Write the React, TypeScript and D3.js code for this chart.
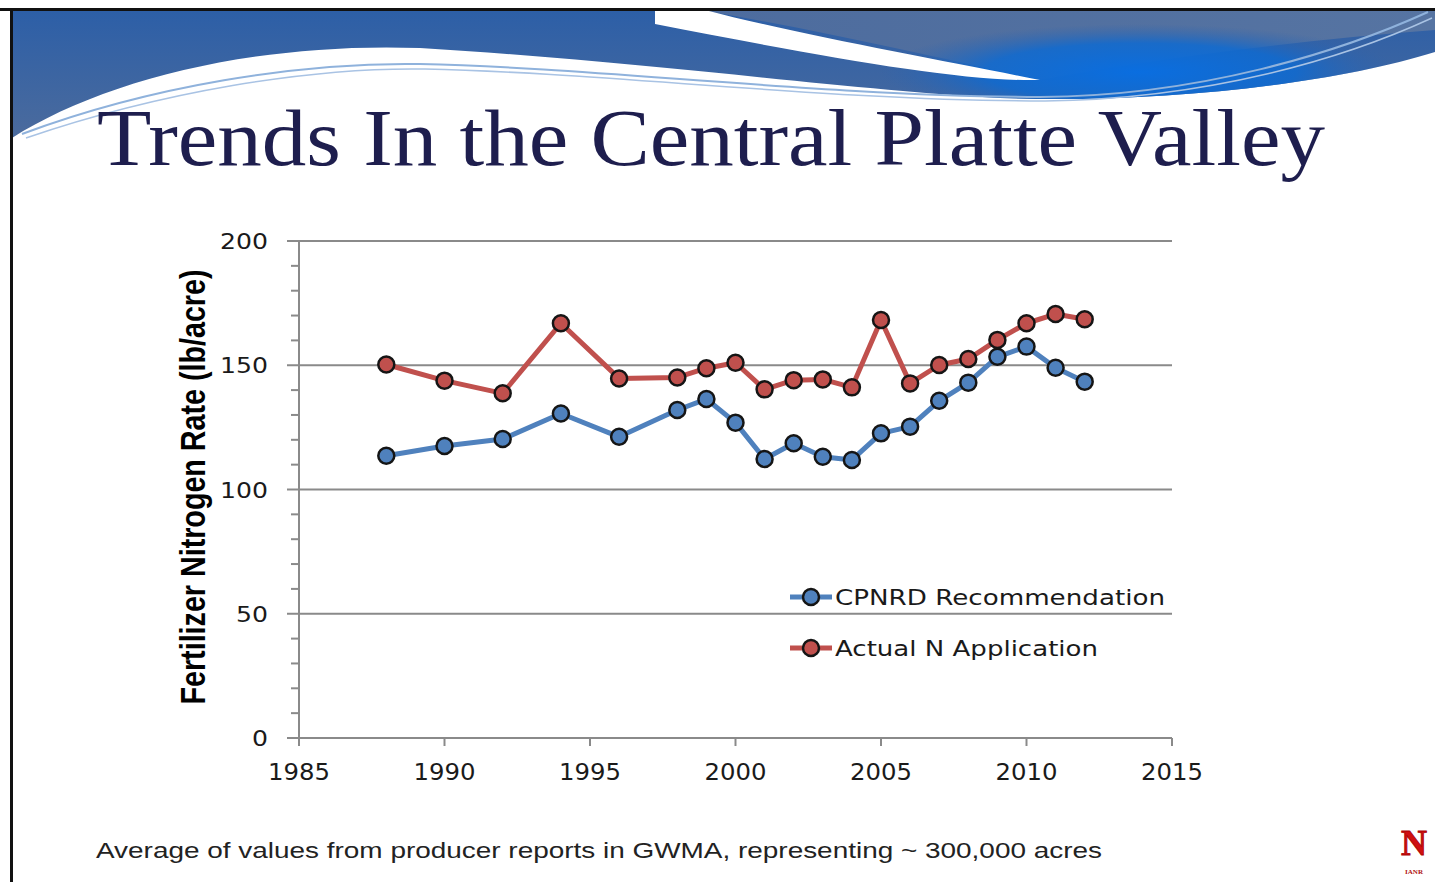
import React from "react";
import * as d3 from "d3";

const years = [1988, 1990, 1992, 1994, 1996, 1998, 1999, 2000, 2001, 2002, 2003, 2004, 2005, 2006, 2007, 2008, 2009, 2010, 2011, 2012];
const cpnrd = [113.6, 117.5, 120.3, 130.6, 121.2, 132, 136.4, 126.9, 112.3, 118.6, 113.2, 111.9, 122.6, 125.3, 135.7, 143, 153.4, 157.5, 149, 143.4];
const actual = [150.3, 143.8, 138.7, 166.9, 144.7, 145.1, 148.8, 151, 140.3, 144, 144.3, 141.1, 168.2, 142.7, 150.1, 152.5, 160.2, 166.9, 170.6, 168.5];
const yTicks = [0, 50, 100, 150, 200];
const xTicks = [1985, 1990, 1995, 2000, 2005, 2010, 2015];
const seriesNames = ["CPNRD Recommendation", "Actual N Application"];
const title = "Trends In the Central Platte Valley";
const yTitle = "Fertilizer Nitrogen Rate (lb/acre)";
const footer = "Average of values from producer reports in GWMA, representing ~ 300,000 acres";

const W = 1435, H = 882;
const left = 299, right = 1172, top = 241, bottom = 738;
const BLUE = "#4f81bd", RED = "#c0504d";

export default function App() {
  const x = d3.scaleLinear().domain([1985, 2015]).range([left, right]);
  const y = d3.scaleLinear().domain([0, 200]).range([bottom, top]);
  const minor = d3.range(0, 201, 10);
  const line = d3.line<number>().x((_, i) => x(years[i])).y((d) => y(d));
  const series = [
    { name: seriesNames[0], values: cpnrd, color: BLUE, len: 330 },
    { name: seriesNames[1], values: actual, color: RED, len: 263 },
  ];
  const font = "'DejaVu Sans', Verdana, sans-serif";
  return (
    <svg width={W} height={H} viewBox={`0 0 ${W} ${H}`} style={{ position: "absolute", left: 0, top: 0, display: "block", background: "#fff" }}>
      <defs>
        <linearGradient id="bannerG" x1="0" y1="0" x2="0" y2="1">
          <stop offset="0" stopColor="#2a5ea8" />
          <stop offset="1" stopColor="#4e6c9c" />
        </linearGradient>
        <linearGradient id="topRight" x1="0" y1="0" x2="1" y2="0">
          <stop offset="0" stopColor="#4d6c9e" />
          <stop offset="1" stopColor="#5674a2" />
        </linearGradient>
        <radialGradient id="bright" cx="0.5" cy="0.5" r="0.5">
          <stop offset="0" stopColor="#0a6ee0" stopOpacity="1" />
          <stop offset="0.6" stopColor="#0f6ad0" stopOpacity="0.85" />
          <stop offset="1" stopColor="#2a62b0" stopOpacity="0" />
        </radialGradient>
        <clipPath id="bannerClip">
          <path d="M12,10 L1435,10 L1435,52 C1330,85 1150,104 1000,98 C850,90 650,62 420,48 C250,42 100,82 12,138 Z" />
        </clipPath>
      </defs>

      {/* banner */}
      <g clipPath="url(#bannerClip)">
        <rect x={0} y={0} width={W} height={150} fill="url(#bannerG)" />
        <path d="M700,10 L1435,10 L1435,30 C1300,40 1150,60 1040,80 C950,60 820,30 700,10 Z" fill="url(#topRight)" />
        <ellipse cx={1140} cy={72} rx={260} ry={48} fill="url(#bright)" />
        <path d="M655,10 L705,10 C800,35 950,62 1040,80 C960,82 820,56 655,24 Z" fill="#fff" />
      </g>
      <path d="M22,134 C150,86 300,62 420,64 C600,68 820,96 1040,97 C1200,96 1340,52 1428,12" fill="none" stroke="#8fb2dc" strokeWidth={2} />
      <path d="M26,138 C160,92 310,67 425,69 C610,73 830,101 1045,101 C1210,99 1345,58 1432,18" fill="none" stroke="#a9c3e4" strokeWidth={1.5} />
      <line x1={0} y1={9.5} x2={W} y2={9.5} stroke="#111" strokeWidth={3} />
      <line x1={11.5} y1={8} x2={11.5} y2={H} stroke="#111" strokeWidth={3} />

      {/* title */}
      <text x={97} y={165} fontFamily="'Liberation Serif', 'Times New Roman', serif" fontSize={80} fill="#1e1e4e" textLength={1228} lengthAdjust="spacingAndGlyphs">{title}</text>

      {/* gridlines */}
      {yTicks.filter((t) => t > 0).map((t) => (
        <line key={t} x1={left} x2={right} y1={y(t)} y2={y(t)} stroke="#8a8a8a" strokeWidth={2} />
      ))}
      {/* y axis */}
      <line x1={left} x2={left} y1={top} y2={bottom} stroke="#8a8a8a" strokeWidth={2} />
      {minor.map((t) => (
        <line key={t} x1={t % 50 === 0 ? left - 12 : left - 8} x2={left} y1={y(t)} y2={y(t)} stroke="#8a8a8a" strokeWidth={2} />
      ))}
      {yTicks.map((t) => (
        <text key={t} x={268} y={y(t) + 8} textAnchor="end" fontFamily={font} fontSize={22} fill="#1a1a1a" textLength={String(t).length * 16} lengthAdjust="spacingAndGlyphs">{t}</text>
      ))}
      {/* x axis */}
      <line x1={left - 12} x2={right} y1={bottom} y2={bottom} stroke="#8a8a8a" strokeWidth={2} />
      {xTicks.map((t) => (
        <g key={t}>
          <line x1={x(t)} x2={x(t)} y1={bottom} y2={bottom + 8} stroke="#8a8a8a" strokeWidth={2} />
          <text x={x(t)} y={780} textAnchor="middle" fontFamily={font} fontSize={23} fill="#1a1a1a" textLength={62} lengthAdjust="spacingAndGlyphs">{t}</text>
        </g>
      ))}

      {/* y title */}
      <text transform={`translate(205,487) rotate(-90)`} textAnchor="middle" fontFamily="'Liberation Sans', Arial, sans-serif" fontWeight="bold" fontSize={35} fill="#000" textLength={435} lengthAdjust="spacingAndGlyphs">{yTitle}</text>

      {/* series */}
      {series.map((s) => (
        <g key={s.name}>
          <path d={line(s.values) || ""} fill="none" stroke={s.color} strokeWidth={5} strokeLinejoin="round" />
          {s.values.map((v, i) => (
            <circle key={i} cx={x(years[i])} cy={y(v)} r={8} fill={s.color} stroke="#151515" strokeWidth={2.5} />
          ))}
        </g>
      ))}

      {/* legend */}
      {series.map((s, i) => {
        const ly = 597 + i * 51;
        return (
          <g key={s.name}>
            <line x1={790} x2={832} y1={ly} y2={ly} stroke={s.color} strokeWidth={5} />
            <circle cx={811} cy={ly} r={8} fill={s.color} stroke="#151515" strokeWidth={2.5} />
            <text x={835} y={ly + 8} fontFamily={font} fontSize={22} fill="#1a1a1a" textLength={s.len} lengthAdjust="spacingAndGlyphs">{s.name}</text>
          </g>
        );
      })}

      {/* footer */}
      <text x={96} y={858} fontFamily="'Liberation Sans', Arial, sans-serif" fontSize={22} fill="#222" textLength={1006} lengthAdjust="spacingAndGlyphs">{footer}</text>

      {/* logo */}
      <text x={1414} y={855} textAnchor="middle" fontFamily="'Liberation Serif', serif" fontWeight="bold" fontSize={36} fill="#d01010" stroke="#a00" strokeWidth={0.8}>N</text>
      <text x={1414} y={874} textAnchor="middle" fontFamily="'Liberation Serif', serif" fontWeight="bold" fontSize={7} fill="#b01010">IANR</text>
    </svg>
  );
}
